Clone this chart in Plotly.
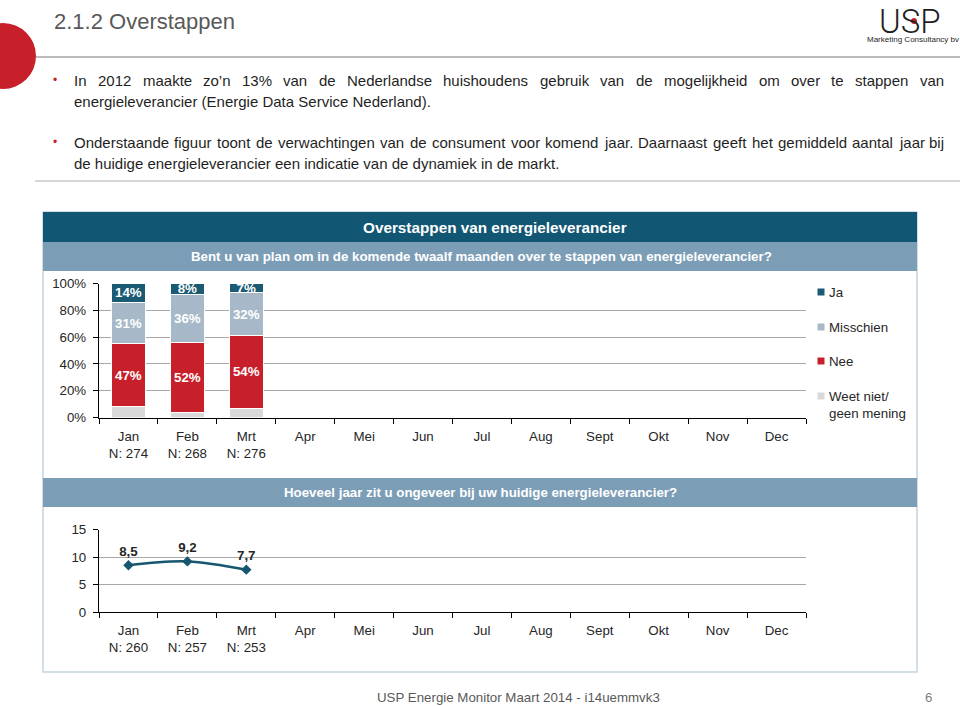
import plotly.graph_objects as go

# ---------------- data ----------------
months = ["Jan", "Feb", "Mrt", "Apr", "Mei", "Jun", "Jul", "Aug", "Sept", "Okt", "Nov", "Dec"]
bar_months = ["Jan", "Feb", "Mrt"]
n_bar = [274, 268, 276]
ja = [14, 8, 7]
misschien = [31, 36, 32]
nee = [47, 52, 54]
weet_niet = [8, 4, 7]
series_names = ["Ja", "Misschien", "Nee", "Weet niet/<br>geen mening"]

line_months = ["Jan", "Feb", "Mrt"]
n_line = [260, 257, 253]
jaren = [8.5, 9.2, 7.7]

pct_ticks = [0, 20, 40, 60, 80, 100]
jaar_ticks = [0, 5, 10, 15]

# ---------------- style ----------------
FONT = "Liberation Sans, Arial, sans-serif"
TXT = "#262626"
C_JA = "#1A5A73"
C_MIS = "#A7B9C9"
C_NEE = "#C8202A"
C_WN = "#D9D9D9"
C_LINE = "#17566F"
C_HEAD = "#115672"
C_SUB = "#7B9DB6"
GRID = "#A8A8A8"

W, H = 960, 706


def X(px):
    return px / W


def Y(py):
    return 1 - py / H


# Arial / Liberation Sans advance widths (1/1000 em) for justified body text
_AW = dict(a=556, b=556, c=500, d=556, e=556, f=278, g=556, h=556, i=222, j=222, k=500,
           l=222, m=833, n=556, o=556, p=556, q=556, r=333, s=500, t=278, u=556, v=500,
           w=722, x=500, y=500, z=500, O=778, D=722, N=722, E=667, S=667, I=278)
_AW.update({".": 278, "(": 333, ")": 333, "%": 889, "’": 222, " ": 278})
for _d in "0123456789":
    _AW[_d] = 556


def word_width(w, size):
    return sum(_AW.get(ch, 556) for ch in w) * size / 1000.0


def justify(line, x0, x1, size):
    words = line.split(" ")
    widths = [word_width(w, size) for w in words]
    gap = (x1 - x0 - sum(widths)) / (len(words) - 1)
    xs, cur = [], x0
    for w in widths:
        xs.append(cur)
        cur += w + gap
    return list(zip(words, xs))


def ticktext(ms, labelled, ns):
    out = []
    for m in ms:
        if m in labelled:
            out.append(f"{m}<br>N: {ns[labelled.index(m)]}")
        else:
            out.append(m)
    return out


fig = go.Figure()

# stacked bars (bottom -> top)
stack = [
    (series_names[3], weet_niet, C_WN, False),
    (series_names[2], nee, C_NEE, True),
    (series_names[1], misschien, C_MIS, True),
    (series_names[0], ja, C_JA, True),
]
for name, vals, col, lab in stack:
    fig.add_trace(go.Bar(
        x=bar_months, y=vals, name=name.replace("<br>", " "),
        marker=dict(color=col, line=dict(color="white", width=1)),
        text=[f"<b>{v}%</b>" for v in vals] if lab else None,
        textposition="inside" if lab else "none",
        insidetextanchor="middle", textangle=0,
        textfont=dict(color="white", size=13.3, family=FONT),
        xaxis="x", yaxis="y", showlegend=False, hoverinfo="skip",
    ))

# line chart
fig.add_trace(go.Scatter(
    x=line_months, y=jaren, mode="lines+markers+text",
    line=dict(color=C_LINE, width=2.5, shape="spline"),
    marker=dict(symbol="diamond", size=8, color=C_LINE),
    texttemplate="<b>%{y:.1f}</b>", textposition="top center",
    textfont=dict(size=13.3, color=TXT, family=FONT),
    xaxis="x2", yaxis="y2", showlegend=False, hoverinfo="skip",
))

xdom = [X(99), X(806)]
axis_common = dict(
    showline=True, linecolor="#000000", linewidth=1.3,
    ticks="outside", ticklen=5, tickcolor="#000000", tickwidth=1,
    tickfont=dict(size=13.3, color=TXT, family=FONT),
    fixedrange=True, automargin=False,
)

fig.update_layout(
    width=W, height=H, autosize=False,
    margin=dict(l=0, r=0, t=0, b=0, pad=0, autoexpand=False),
    paper_bgcolor="white", plot_bgcolor="rgba(0,0,0,0)",
    font=dict(family=FONT, size=13.3, color=TXT),
    separators=",.",
    barmode="stack", bargap=0.42,
    uniformtext=dict(minsize=13, mode="show"),
    showlegend=False,
    xaxis=dict(domain=xdom, anchor="y", type="category",
               categoryorder="array", categoryarray=months, range=[-0.5, 11.5],
               tickmode="array", tickvals=months,
               ticktext=ticktext(months, bar_months, n_bar),
               tickson="boundaries", showgrid=False, ticklabelstandoff=6,
               **axis_common),
    yaxis=dict(domain=[Y(417.5), Y(283.5)], anchor="x", range=[0, 100],
               tickmode="array", tickvals=pct_ticks,
               ticktext=[f"{v}%" for v in pct_ticks],
               showgrid=True, gridcolor=GRID, gridwidth=1, zeroline=False,
               ticklabelstandoff=4, **axis_common),
    xaxis2=dict(domain=xdom, anchor="y2", type="category",
                categoryorder="array", categoryarray=months, range=[-0.5, 11.5],
                tickmode="array", tickvals=months,
                ticktext=ticktext(months, line_months, n_line),
                tickson="boundaries", showgrid=False, ticklabelstandoff=6,
                **axis_common),
    yaxis2=dict(domain=[Y(612), Y(529.5)], anchor="x2", range=[0, 15],
                tickmode="array", tickvals=jaar_ticks,
                showgrid=True, gridcolor=GRID, gridwidth=1, zeroline=False,
                ticklabelstandoff=4, **axis_common),
)

shapes = []
annotations = []


def rect(x0, y0, x1, y1, fill=None, line=None, lw=0, layer="below"):
    shapes.append(dict(type="rect", xref="paper", yref="paper",
                       x0=X(x0), x1=X(x1), y0=Y(y1), y1=Y(y0),
                       fillcolor=fill if fill else "rgba(0,0,0,0)",
                       line=dict(color=line if line else "rgba(0,0,0,0)", width=lw),
                       layer=layer))


def hline(x0, x1, y, color, lw):
    shapes.append(dict(type="line", xref="paper", yref="paper",
                       x0=X(x0), x1=X(x1), y0=Y(y), y1=Y(y),
                       line=dict(color=color, width=lw), layer="below"))


def text(x, y, s, size=13.3, color=TXT, xa="left", ya="middle", family=FONT, weight=None):
    f = dict(size=size, color=color, family=family)
    if weight is not None:
        f["weight"] = weight
    annotations.append(dict(xref="paper", yref="paper", x=X(x), y=Y(y), text=s,
                            showarrow=False, xanchor=xa, yanchor=ya, align="left",
                            font=f, borderpad=0))


# slide decoration
hline(36, 960, 57, "#A6A6A6", 1.5)
shapes.append(dict(type="circle", xref="paper", yref="paper",
                   x0=X(-30), x1=X(36), y0=Y(89), y1=Y(23),
                   fillcolor="#C8202A", line=dict(width=0), layer="above"))
text(53, 21, "2.1.2 Overstappen", size=22, color="#595959")

# logo
text(910, 0.5, "USP", size=33, color="#1f1f1f", xa="center", ya="top",
     family="Roboto, Liberation Sans, Arial", weight=300)
shapes.append(dict(type="circle", xref="paper", yref="paper",
                   x0=X(911), x1=X(917), y0=Y(24), y1=Y(18),
                   fillcolor="#C8202A", line=dict(width=0), layer="above"))
text(913, 39, "Marketing Consultancy bv", size=8, color="#1f1f1f", xa="center")

# bullets
BUL = "#C8202A"
BODY = "#1f1f1f"
text(55, 80, "•", size=12, color=BUL, xa="center")
text(55, 142, "•", size=12, color=BUL, xa="center")
line1 = "In 2012 maakte zo’n 13% van de Nederlandse huishoudens gebruik van de mogelijkheid om over te stappen van"
for w, xx in justify(line1, 73, 943, 15):
    text(xx, 80, w, size=15, color=BODY)
text(73, 101, "energieleverancier (Energie Data Service Nederland).", size=15, color=BODY)
line3 = ("Onderstaande figuur toont de verwachtingen van de consument voor komend jaar. "
         "Daarnaast geeft het gemiddeld aantal jaar bij")
for w, xx in justify(line3, 73, 943, 15):
    text(xx, 142, w, size=15, color=BODY)
text(73, 163, "de huidige energieleverancier een indicatie van de dynamiek in de markt.",
     size=15, color=BODY)
hline(35, 960, 181, "#C8C8C8", 1.5)

# panel
rect(43, 212, 917, 672, line="#C3D2DC", lw=1.5)
rect(43, 212, 917, 242, fill=C_HEAD)
rect(43, 242, 917, 271, fill=C_SUB)
rect(43, 478, 917, 507, fill=C_SUB)
text(495, 227, "<b>Overstappen van energieleverancier</b>", size=15.3, color="white", xa="center")
text(481, 256.5, "<b>Bent u van plan om in de komende twaalf maanden over te stappen van energieleverancier?</b>",
     size=13.3, color="white", xa="center")
text(480.5, 492.5, "<b>Hoeveel jaar zit u ongeveer bij uw huidige energieleverancier?</b>",
     size=13.3, color="white", xa="center")

# legend
leg = [(series_names[0], C_JA, 292), (series_names[1], C_MIS, 327),
       (series_names[2], C_NEE, 361), (series_names[3], C_WN, 396)]
for name, col, yy in leg:
    rect(817.5, yy - 3.5, 824.5, yy + 3.5, fill=col, layer="above")
    if "<br>" in name:
        text(828, yy - 8.5, name, size=13.3, color=TXT, ya="top")
    else:
        text(828, yy, name, size=13.3, color=TXT)

# footer
text(376, 697, "USP Energie Monitor Maart 2014 - i14uemmvk3", size=13.3, color="#595959")
text(928, 697, "6", size=13.3, color="#7F7F7F", xa="center")

fig.update_layout(shapes=shapes, annotations=annotations)

# page without default body margin so the 960x706 figure fills the window exactly
post = ("document.documentElement.style.margin='0';"
        "document.documentElement.style.overflow='hidden';"
        "document.body.style.margin='0';"
        "document.body.style.overflow='hidden';")
fig.write_html("out.html", post_script=post, config={"displayModeBar": False})
